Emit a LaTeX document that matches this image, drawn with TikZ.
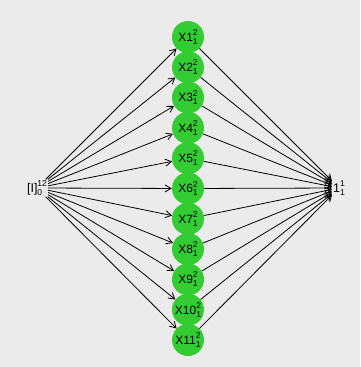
\documentclass[tikz,border=0pt]{standalone}
\usepackage{fontspec}
\setmainfont{Liberation Sans}
\usetikzlibrary{arrows.meta}

\definecolor{panelgray}{HTML}{EBEBEB}
\definecolor{unitgreen}{HTML}{33CC33}

% superscript over subscript, set as two stacked lines
\newcommand{\supsub}[2]{\raisebox{-3pt}{\fontsize{8.5}{8.5}\selectfont\shortstack[l]{#1\\#2}}}

\tikzset{
	unit/.style={circle, fill=unitgreen, minimum size=32pt, inner sep=0pt, font=\fontsize{12}{14}\selectfont},
	term/.style={inner sep=1pt, font=\fontsize{12.5}{14}\selectfont},
	link/.style={-{Straight Barb[length=6pt,width=7pt]}, line width=0.8pt}
}

\begin{document}
\begin{tikzpicture}[x=1pt, y=-1pt]
		\fill[panelgray] (0,0) rectangle (360,367);
		\useasboundingbox (0,0) rectangle (360,367);
		
		\node[term] (in0) at (37,188) {[I]\supsub{12}{0}};
		\node[term] (out1) at (339,188) {1\supsub{1}{1}};
		
		\foreach \i in {1,...,11}{
			\node[unit] (x\i) at (188,{37+30.3*(\i-1)}) {X\i\supsub{2}{1}};
		}
		
		\foreach \i in {1,...,11}{
			\draw[link] (in0) -- (x\i);
			\draw[link] (x\i) -- (out1);
		}
		
		\end{tikzpicture}
\end{document}
